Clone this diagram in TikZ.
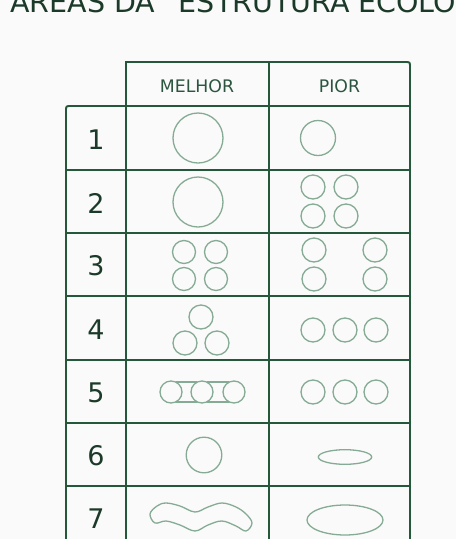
\documentclass[tikz,border=0pt]{standalone}
\usepackage{fontspec}
\setmainfont{DejaVu Sans}
\definecolor{bgc}{HTML}{FAFAFA}
\definecolor{tline}{HTML}{25583B}
\definecolor{shapec}{HTML}{86AB95}
\definecolor{txt}{HTML}{1C3A29}
\definecolor{htxt}{HTML}{2C5540}
\tikzset{
  tbl/.style={draw=tline, line width=1.9pt},
  shp/.style={draw=shapec, line width=1.3pt},
  numtxt/.style={font=\fontsize{27}{27}\selectfont, text=txt, inner sep=0pt},
  headtxt/.style={font=\fontsize{17.3}{17.3}\selectfont, text=htxt, inner sep=0pt},
}
\begin{document}
\begin{tikzpicture}[x=1pt,y=-1pt]
\path[use as bounding box] (0,0) rectangle (456,539);
\clip (0,0) rectangle (456,539);
\fill[bgc] (0,0) rectangle (456,539);
% title (cut at the top, as in the reference)
\node[anchor=base west, font=\fontsize{28.5}{28.5}\selectfont, text=txt, inner sep=0pt] (title) at (10,12) {ÁREAS DA “ESTRUTURA ECOLÓGICA”};
% table outline
\draw[tbl] (66,545) -- (66,111) .. controls (66,106) .. (71,106) -- (126,106) -- (126,62) -- (405,62) .. controls (410,62) .. (410,67) -- (410,545);
\draw[tbl] (126,106) -- (410,106);
\foreach \yy in {170,233,296,360,423,486} {\draw[tbl] (66,\yy) -- (410,\yy);}
\draw[tbl] (126,106) -- (126,545);
\draw[tbl] (269,62) -- (269,545);
% headers
\node[headtxt] (hm) at (197,86.5) {MELHOR};
\node[headtxt] (hp) at (339.5,86.5) {PIOR};
% numbers
\node[numtxt] (n1) at (96,139.5) {1};
\node[numtxt] (n2) at (96,203) {2};
\node[numtxt] (n3) at (96,266) {3};
\node[numtxt] (n4) at (96,329.5) {4};
\node[numtxt] (n5) at (96,393) {5};
\node[numtxt] (n6) at (96,456) {6};
\node[numtxt] (n7) at (96,519) {7};
% row 1
\draw[shp] (198,138) circle[radius=25];
\draw[shp] (318,138) circle[radius=17.5];
% row 2
\draw[shp] (198,202) circle[radius=25];
\foreach \xx in {313,346} \foreach \yy in {187,216} {\draw[shp] (\xx,\yy) circle[radius=12];}
% row 3
\foreach \xx in {184,216} \foreach \yy in {252,279} {\draw[shp] (\xx,\yy) circle[radius=11.5];}
\foreach \xx in {314,375} \foreach \yy in {250,279} {\draw[shp] (\xx,\yy) circle[radius=12];}
% row 4
\draw[shp] (201,317) circle[radius=12];
\draw[shp] (185,343) circle[radius=12];
\draw[shp] (217,343) circle[radius=12];
\foreach \xx in {313,345,376} {\draw[shp] (\xx,330) circle[radius=12];}
% row 5
\foreach \xx in {171,202,234} {\draw[shp] (\xx,392) circle[radius=11];}
\draw[shp] (175.6,382) -- (197.4,382);
\draw[shp] (175.6,402) -- (197.4,402);
\draw[shp] (206.6,382) -- (229.4,382);
\draw[shp] (206.6,402) -- (229.4,402);
\foreach \xx in {313,345,376} {\draw[shp] (\xx,392) circle[radius=12];}
% row 6
\draw[shp] (204,455) circle[radius=17.8];
\draw[shp] (345,457) ellipse[x radius=26.7, y radius=7.3];
% row 7
\draw[shp] plot[smooth cycle, tension=0.6] coordinates {
  (157,506) (166,503) (180,506) (195,512) (208,507) (222,503) (236,507) (246,514)
  (252,523)
  (246,531) (236,526) (222,521) (208,525) (195,531) (180,525) (166,521) (155,523)
  (150,514)};
\draw[shp] (345,520) ellipse[x radius=38, y radius=15];
\end{tikzpicture}
\end{document}
